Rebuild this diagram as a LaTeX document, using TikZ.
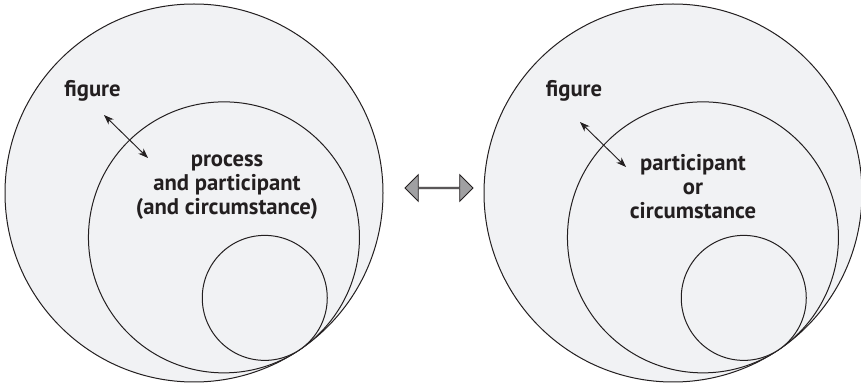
\documentclass[tikz,border=0pt]{standalone}
\usepackage{fontspec}
\setmainfont{PT Sans}
\usetikzlibrary{arrows.meta,shapes.arrows}
\definecolor{ink}{RGB}{35,31,32}
\definecolor{disc}{RGB}{241,242,244}
\definecolor{arrowgrey}{RGB}{160,160,162}
\tikzset{
  ring/.style={circle, draw=ink, fill=disc, line width=0.75pt, inner sep=0pt},
  label/.style={text=ink, font=\fontsize{17}{18}\selectfont\bfseries, align=center, inner sep=0pt},
  link/.style={draw=ink, line width=0.7pt, {Stealth[length=7.5pt,width=5.5pt]}-{Stealth[length=7.5pt,width=5.5pt]}},
  swap/.style={double arrow, draw=ink, fill=arrowgrey, line width=0.6pt, inner sep=0pt,
    minimum width=20pt, double arrow head extend=5.3pt, minimum height=51pt}
}
\begin{document}
\begin{tikzpicture}[x=0.75pt,y=-0.75pt]
\useasboundingbox (0,0) rectangle (861,388);
\begin{scope}
\clip (0,0) rectangle (861,388);
% left: nested circles tangent at the lower right
\node[ring, minimum size=283.5pt] (outerL) at (194,193) {};
\node[ring, minimum size=203.25pt] (midL) at (223.96,237.37) {};
\node[ring, minimum size=93.75pt] (smallL) at (264.76,297.89) {};
% right: the same arrangement shifted
\node[ring, minimum size=283.5pt] (outerR) at (673,193) {};
\node[ring, minimum size=203.25pt] (midR) at (702.96,237.37) {};
\node[ring, minimum size=93.75pt] (smallR) at (743.76,297.89) {};
\end{scope}

% labels
\node[label] (figL) at (92.5,91) {figure};
\node[label] (textL) at (227,187) {process\\and participant\\(and circumstance)};
\node[label] (figR) at (574,91) {figure};
\node[label] (textR) at (693,187) {participant\\or\\circumstance};

% relation arrows
\coordinate (aL1) at (104,115);
\coordinate (aL2) at (148,158);
\coordinate (aR1) at (580,122);
\coordinate (aR2) at (626,167);
\draw[link] (aL1) -- (aL2);
\draw[link] (aR1) -- (aR2);

% central two-way arrow
\node[swap] (both) at (439,188) {};
\end{tikzpicture}
\end{document}
